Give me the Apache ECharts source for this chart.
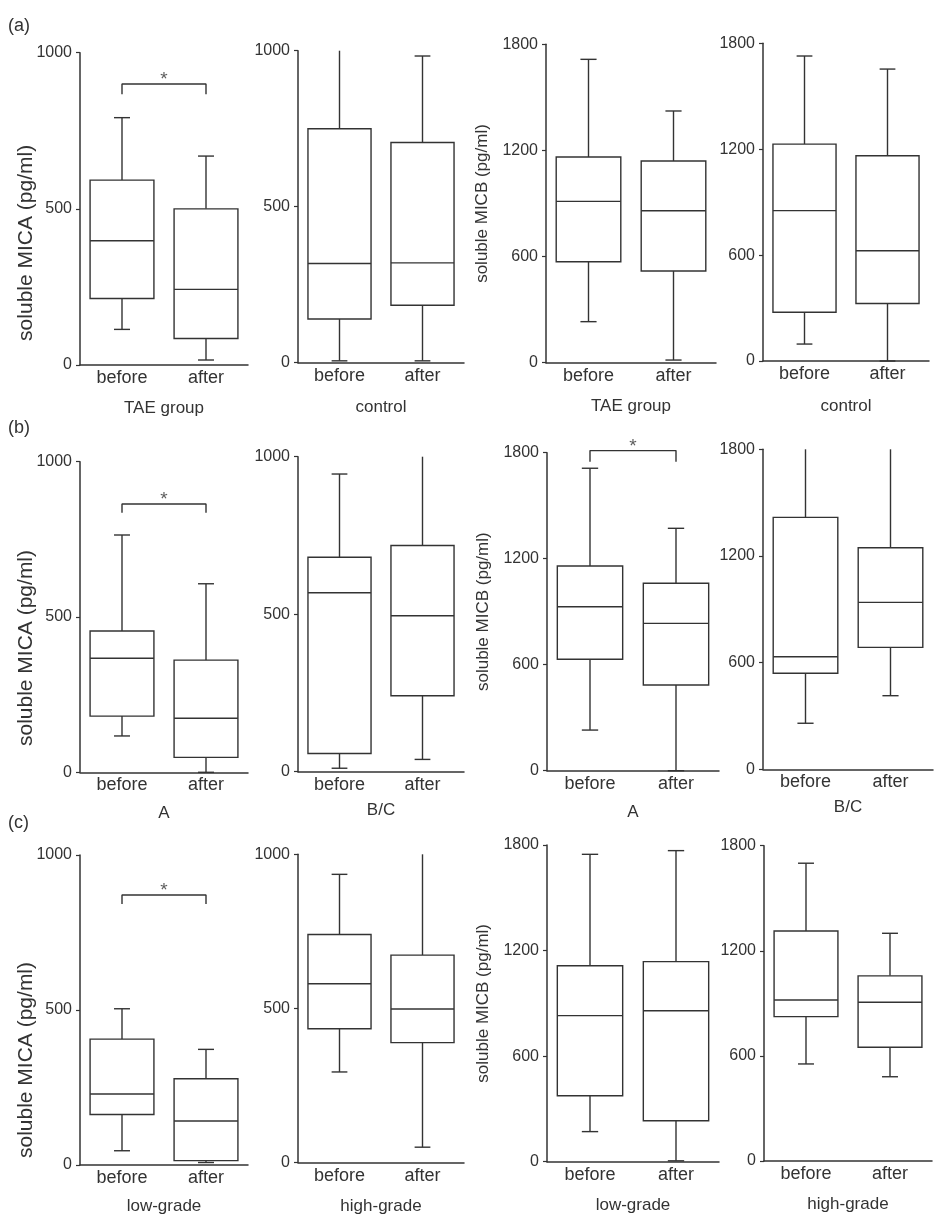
<!DOCTYPE html>
<html><head><meta charset="utf-8">
<script src="https://cdn.jsdelivr.net/npm/echarts/dist/echarts.min.js"></script>
<style>html,body{margin:0;padding:0;background:#fff}#c{width:934px;height:1215px}</style>
</head><body><div id="c"></div>
<script>
// ---------- data ----------
const categories = ['before', 'after'];
const rowLetters = ['(a)', '(b)', '(c)'];
const groupLabels = ['TAE group', 'control', 'TAE group', 'control',
                     'A', 'B/C', 'A', 'B/C',
                     'low-grade', 'high-grade', 'low-grade', 'high-grade'];
const yTitles = ['soluble MICA (pg/ml)', '', 'soluble MICB (pg/ml)', '',
                 'soluble MICA (pg/ml)', '', 'soluble MICB (pg/ml)', '',
                 'soluble MICA (pg/ml)', '', 'soluble MICB (pg/ml)', ''];
const yMax = [1000, 1000, 1800, 1800, 1000, 1000, 1800, 1800, 1000, 1000, 1800, 1800];
const yInterval = [500, 500, 600, 600, 500, 500, 600, 600, 500, 500, 600, 600];
// [low whisker, Q1, median, Q3, high whisker]
const beforeStats = [
  [114, 213, 398, 592, 792],
  [6, 140, 318, 750, 1000],
  [232, 571, 912, 1163, 1715],
  [96, 276, 852, 1229, 1728],
  [117, 181, 367, 455, 764],
  [11, 58, 568, 681, 945],
  [230, 631, 928, 1159, 1712],
  [259, 540, 633, 1417, 1800],
  [46, 163, 229, 406, 504],
  [294, 434, 580, 740, 935],
  [171, 375, 830, 1114, 1747],
  [554, 824, 919, 1313, 1700]
];
const afterStats = [
  [16, 85, 242, 500, 669],
  [6, 184, 320, 706, 983],
  [15, 518, 859, 1140, 1423],
  [0, 326, 625, 1163, 1654],
  [0, 48, 174, 361, 607],
  [39, 241, 495, 718, 1000],
  [0, 485, 834, 1061, 1372],
  [414, 686, 939, 1246, 1800],
  [8, 14, 142, 278, 373],
  [50, 389, 498, 673, 1000],
  [5, 233, 858, 1137, 1768],
  [481, 649, 906, 1057, 1300]
];
// significance brackets (panel index, leg bottom value, bar value)
const bracketPanels = [0, 4, 6, 8];
const bracketLow = [867, 836, 1749, 842];
const bracketHigh = [900, 864, 1812, 871];
const bracketMark = '*';

// ---------- layout ----------
const gridBoxes = [
  [80, 52.7, 168, 312.3], [298, 50.7, 166, 312], [546, 44.3, 170, 318.4], [763, 43.3, 166, 317.7],
  [80, 461.7, 168, 310.6], [298, 456.7, 166, 315], [547, 452.7, 172, 318], [763, 449.3, 170, 320],
  [80, 855, 168, 310], [298, 854.3, 166, 308.3], [547, 845, 172, 316.7], [764, 845.7, 168, 315.3]
];
const groupGap = [35, 36, 35, 37, 33, 30, 33, 30, 33, 35, 35, 35];
const yNameGap = [43, 0, 55, 0, 43, 0, 55, 0, 43, 0, 55, 0];
const yNameShift = [68, 0, 0, 0, 62, 0, 0, 0, 100, 0, 0, 0];
const letterTops = [17, 419, 814];

const FONT = '"Liberation Sans", Arial, Helvetica, sans-serif';
const INK = '#333';
const LW = 1.4;

function makeRender(maxVal) {
  return function (params, api) {
    const xi = api.value(0);
    const lo = api.value(1), q1 = api.value(2), md = api.value(3), q3 = api.value(4), hi = api.value(5);
    const band = api.size([1, 0])[0];
    const bw = band * 0.76, cw = band * 0.19;
    const pLo = api.coord([xi, lo]), pQ1 = api.coord([xi, q1]), pMd = api.coord([xi, md]);
    const pQ3 = api.coord([xi, q3]), pHi = api.coord([xi, hi]);
    const cx = pMd[0];
    const st = { stroke: INK, lineWidth: LW };
    const ch = [
      { type: 'line', shape: { x1: cx, y1: pQ3[1], x2: cx, y2: pHi[1] }, style: st },
      { type: 'line', shape: { x1: cx, y1: pQ1[1], x2: cx, y2: pLo[1] }, style: st },
      { type: 'rect', shape: { x: cx - bw / 2, y: pQ3[1], width: bw, height: pQ1[1] - pQ3[1] },
        style: { fill: '#fff', stroke: INK, lineWidth: LW } },
      { type: 'line', shape: { x1: cx - bw / 2, y1: pMd[1], x2: cx + bw / 2, y2: pMd[1] }, style: st },
      { type: 'line', shape: { x1: cx - cw / 2, y1: pLo[1], x2: cx + cw / 2, y2: pLo[1] }, style: st }
    ];
    if (hi < maxVal) {
      ch.push({ type: 'line', shape: { x1: cx - cw / 2, y1: pHi[1], x2: cx + cw / 2, y2: pHi[1] }, style: st });
    }
    return { type: 'group', children: ch };
  };
}

const grids = [], xAxes = [], yAxes = [], series = [];
gridBoxes.forEach((g, i) => {
  grids.push({ left: g[0], top: g[1], width: g[2], height: g[3], outerBoundsMode: 'none', containLabel: false });
  xAxes.push({
    type: 'category', gridIndex: i, data: categories, boundaryGap: true,
    axisLine: { lineStyle: { color: INK, width: 1.5 } },
    axisTick: { show: false },
    axisLabel: { color: INK, fontSize: 18, fontFamily: FONT, margin: 4 },
    name: groupLabels[i], nameLocation: 'middle', nameGap: groupGap[i], nameMoveOverlap: false,
    nameTextStyle: { color: INK, fontSize: 17, fontFamily: FONT }
  });
  yAxes.push({
    type: 'value', gridIndex: i, min: 0, max: yMax[i], interval: yInterval[i],
    splitLine: { show: false },
    axisLine: { show: true, lineStyle: { color: INK, width: 1.5 } },
    axisTick: { show: true, length: 4, lineStyle: { color: INK, width: 1.2 } },
    axisLabel: { color: INK, fontSize: 16, fontFamily: FONT, margin: 8, formatter: v => String(v) },
    name: yTitles[i], nameLocation: 'middle', nameGap: yNameGap[i], nameMoveOverlap: false,
    nameTextStyle: { color: INK, fontSize: (yMax[i] === 1000 ? 21 : 17), fontFamily: FONT,
      padding: [0, yNameShift[i], 0, 0] }
  });
  series.push({
    type: 'custom', xAxisIndex: i, yAxisIndex: i, silent: true,
    renderItem: makeRender(yMax[i]),
    encode: { x: 0, y: [1, 2, 3, 4, 5] },
    data: [[0].concat(beforeStats[i]), [1].concat(afterStats[i])]
  });
});

bracketPanels.forEach((p, k) => {
  const ax = xAxes.length;
  xAxes.push({ type: 'value', gridIndex: p, min: 0, max: 2, show: false });
  series.push({
    type: 'line', xAxisIndex: ax, yAxisIndex: p, silent: true, clip: false, symbol: 'none',
    lineStyle: { color: INK, width: LW },
    data: [[0.5, bracketLow[k]], [0.5, bracketHigh[k]], [1.5, bracketHigh[k]], [1.5, bracketLow[k]]]
  });
  series.push({
    type: 'scatter', xAxisIndex: ax, yAxisIndex: p, silent: true, clip: false,
    symbolSize: 1, itemStyle: { color: 'rgba(0,0,0,0)' },
    label: { show: true, position: 'top', distance: 0, offset: [0, 6], formatter: bracketMark,
      color: INK, fontSize: 19, fontFamily: FONT },
    data: [[1, bracketHigh[k]]]
  });
});

const chart = echarts.init(document.getElementById('c'), null, { renderer: 'canvas' });
chart.setOption({
  backgroundColor: '#fff',
  animation: false,
  title: rowLetters.map((t, i) => ({
    text: t, left: 8, top: letterTops[i], padding: 0,
    textStyle: { fontSize: 18, fontWeight: 'normal', color: INK, fontFamily: FONT }
  })),
  grid: grids,
  xAxis: xAxes,
  yAxis: yAxes,
  series: series
});
</script>
</body></html>
